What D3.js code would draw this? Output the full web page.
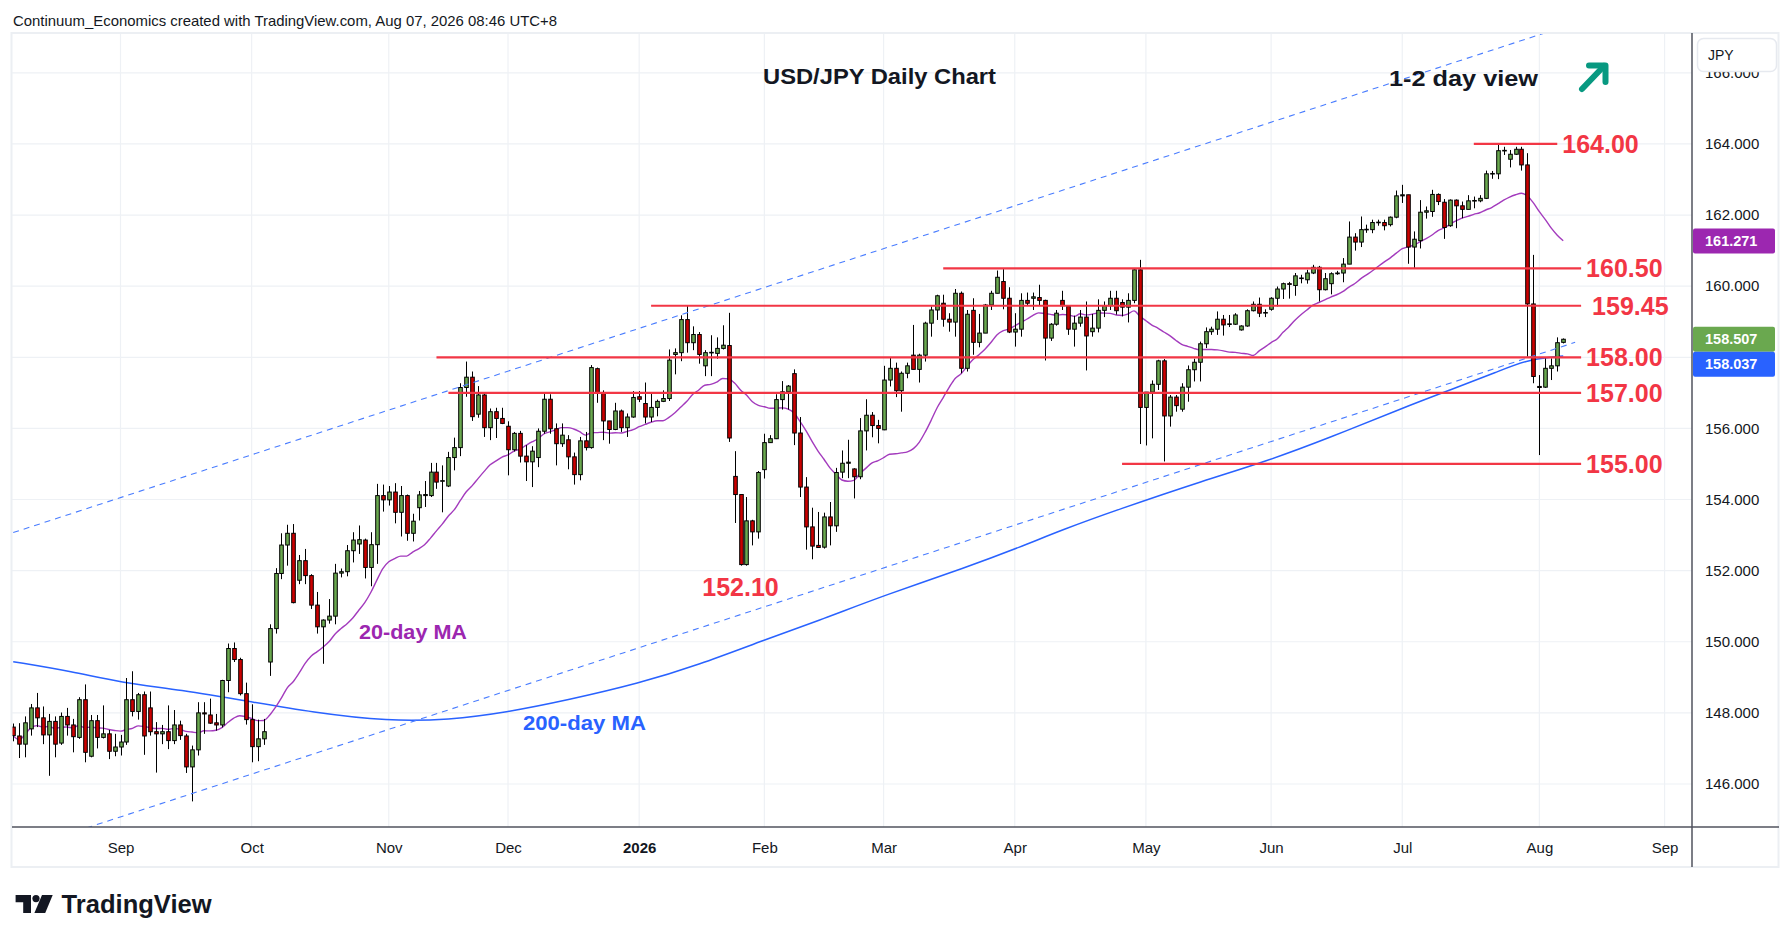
<!DOCTYPE html>
<html><head><meta charset="utf-8">
<script src="https://cdn.jsdelivr.net/npm/d3@7"></script>
<style>html,body{margin:0;padding:0;background:#fff;}svg{display:block;}</style>
</head><body>
<svg id="chart" width="1792" height="942"></svg>
<script>
// ---------------- DATA (O, H, L, C per trading day) ----------------
const aug2025 = [
[147.60,147.70,147.20,147.36],[147.35,147.71,146.73,147.12],[147.12,147.90,146.75,147.72],[147.55,148.25,147.36,148.14],
[148.14,148.56,147.60,147.86],[147.86,148.18,147.12,147.38],[147.38,147.97,146.23,147.76],[147.76,147.90,146.75,147.12],
[147.15,148.01,147.10,147.90],[147.90,148.14,147.36,147.66],[147.66,147.83,146.89,147.33],[147.31,148.44,147.27,148.37],
[148.37,148.80,146.61,146.89],[146.78,147.94,146.75,147.78],[147.78,147.94,147.00,147.31],[147.31,148.21,147.28,147.41],
[147.41,147.52,146.70,146.92],[146.92,147.41,146.78,147.04]];
const sep2025 = [
[147.04,147.38,146.80,147.18],[147.18,148.98,147.10,148.37],[148.37,149.17,147.90,148.04],[148.04,148.56,147.81,148.51],
[148.51,148.60,146.82,147.35],[148.14,148.60,147.36,147.47],[147.47,147.74,146.32,147.41],[147.41,147.66,147.12,147.47],
[147.47,148.21,146.98,147.22],[147.22,148.08,147.12,147.66],[147.66,147.78,147.24,147.36],[147.35,147.41,146.31,146.48],
[146.48,147.08,145.51,146.96],[146.96,148.30,146.80,148.00],[148.00,148.30,147.41,147.97],[147.94,148.40,147.69,147.71],
[147.72,147.97,147.50,147.66],[147.66,148.93,147.59,148.91],[148.91,149.95,148.58,149.81],[149.81,149.98,149.43,149.50],
[149.50,149.55,148.49,148.54],[148.54,148.85,147.67,147.81]];
const oct2025 = [
[147.81,148.24,146.61,147.05],[147.05,147.81,146.64,147.27],[147.27,147.83,147.10,147.47],[149.43,150.49,149.04,150.37],
[150.37,152.07,150.23,151.92],[151.92,153.05,151.76,152.72],[152.72,153.29,152.14,153.05],[153.05,153.31,151.08,151.10],
[151.73,152.44,151.62,152.28],[152.28,152.61,151.62,151.86],[151.86,151.90,150.92,151.03],[151.03,151.40,150.23,150.42],
[150.42,150.63,149.38,150.61],[150.61,151.20,150.51,150.72],[150.72,152.19,150.49,151.93],[151.93,152.06,151.81,151.97],
[151.97,152.72,151.84,152.56],[152.56,153.08,152.23,152.86],[152.75,153.27,152.47,152.87],[152.86,152.90,151.78,152.09],
[152.09,153.08,151.56,152.73],[152.73,154.44,152.19,154.11],[154.11,154.42,153.66,153.99]];
const nov2025 = [
[153.99,154.38,153.83,154.21],[154.21,154.46,153.33,153.64],[153.64,154.38,152.96,154.11],[154.11,154.14,152.84,153.05],
[153.05,153.60,152.82,153.39],[153.77,154.24,153.41,154.13],[154.11,154.52,153.79,154.14],[154.11,155.03,154.07,154.77],
[154.77,155.03,154.30,154.49],[154.52,154.96,153.64,154.53],[154.38,155.34,154.35,155.18],[155.18,155.74,154.82,155.46],
[155.46,157.27,155.22,157.15],[157.15,157.88,156.89,157.44],[157.44,157.60,156.21,156.33],[156.40,157.19,156.30,156.94],
[156.94,156.98,155.76,156.02],[156.02,156.56,155.67,156.47],[156.47,156.58,155.73,156.28],[156.28,156.58,156.12,156.14]];
const dec2025 = [
[156.06,156.20,154.68,155.40],[155.40,155.90,155.35,155.86],[155.86,155.93,155.04,155.22],[155.22,155.53,154.52,155.06],
[155.06,155.50,154.35,155.36],[155.18,156.00,154.91,155.92],[155.92,156.97,155.85,156.82],[156.82,156.96,155.85,155.99],
[155.99,156.14,154.96,155.57],[155.57,156.14,155.48,155.81],[155.68,155.81,154.85,155.20],[155.20,155.32,154.42,154.70],
[154.70,155.76,154.54,155.65],[155.65,155.90,155.38,155.46],[155.46,157.78,155.43,157.71],[157.68,157.71,156.72,157.01],
[157.01,157.07,155.67,156.21],[156.21,156.21,155.57,155.97],[155.97,156.72,155.95,156.49],[156.49,156.53,155.90,156.02],
[156.02,156.42,155.76,156.32],[156.32,157.05,156.30,156.87]];
const jan2026 = [
[156.89,157.05,156.74,156.82],[156.70,157.29,156.14,156.32],[156.32,157.00,156.18,156.59],[156.59,156.81,156.34,156.76],
[156.76,157.07,156.74,156.84],[156.84,158.22,156.77,157.92],[158.08,158.25,157.52,158.13],[158.13,159.18,157.89,159.06],
[159.06,159.47,158.13,158.41],[158.41,158.87,158.20,158.64],[158.64,158.71,157.82,158.08],[157.76,158.20,157.47,158.13],
[158.13,158.62,157.47,158.14],[158.11,158.56,157.96,158.25],[158.25,158.90,158.22,158.34],[158.33,159.25,155.62,155.73],
[154.65,155.36,153.34,154.14],[154.14,154.14,152.14,152.17],[152.17,154.07,152.14,153.40],[153.40,153.43,152.71,153.09],
[153.09,154.80,152.90,154.76]];
const feb2026 = [
[154.84,155.85,154.59,155.60],[155.60,155.81,155.59,155.71],[155.71,156.96,155.70,156.81],[156.81,157.33,156.53,157.03],
[157.03,157.22,156.53,157.19],[157.54,157.66,155.53,155.87],[155.87,156.32,154.07,154.35],[154.35,154.63,152.59,153.23],
[153.23,153.77,152.32,152.69],[152.71,153.65,152.64,152.65],[152.66,153.63,152.62,153.51],[153.51,153.93,152.71,153.26],
[153.26,154.89,153.09,154.76],[154.77,155.38,154.60,155.02],[155.02,155.68,154.60,155.05],[154.86,154.88,154.03,154.64],
[154.64,156.29,154.57,155.93],[155.93,156.82,155.38,156.37],[156.37,156.46,155.75,156.08],[156.08,156.24,155.58,156.00]];
const mar2026 = [
[155.96,157.76,155.95,157.36],[157.36,158.00,157.18,157.69],[157.69,157.85,156.88,157.06],[157.06,157.60,156.47,157.55],
[157.55,157.85,157.41,157.76],[158.06,158.91,157.66,157.66],[157.66,158.10,157.29,158.06],[158.06,159.00,157.88,158.96],
[158.96,159.43,158.58,159.33],[159.33,159.76,159.05,159.73],[159.52,159.76,158.86,159.07],[159.07,159.24,158.72,158.99],
[158.99,159.92,158.58,159.80],[159.80,159.85,157.55,157.69],[157.69,159.33,157.60,159.21],[159.32,159.66,158.07,158.42],
[158.42,159.22,158.28,158.68],[158.68,159.50,158.68,159.47],[159.47,159.87,159.33,159.80],[159.80,160.44,159.80,160.25],
[160.13,160.48,159.35,159.66],[159.66,159.97,158.68,158.71]];
const apr2026 = [
[158.71,159.24,158.30,158.79],[158.79,159.80,158.58,159.60],[159.60,159.82,159.47,159.52],[159.66,159.82,159.33,159.70],
[159.68,160.04,159.47,159.60],[159.60,159.62,157.91,158.54],[158.54,158.96,158.46,158.93],[158.93,159.33,158.89,159.24],
[159.60,159.87,159.33,159.45],[159.43,159.45,158.63,158.79],[158.79,159.17,158.30,158.96],[158.96,159.33,158.86,159.13],
[159.13,159.57,157.63,158.60],[158.72,159.22,158.58,158.82],[158.82,159.63,158.70,159.32],[159.32,159.57,159.13,159.45],
[159.45,159.87,159.33,159.66],[159.66,159.87,159.20,159.31],[159.54,159.63,159.15,159.41],[159.41,159.80,158.98,159.60],
[159.60,160.51,159.52,160.46],[160.46,160.74,155.56,156.59]];
const may2026 = [
[156.59,157.02,155.52,157.02],[157.02,157.35,155.72,157.24],[157.24,157.93,157.08,157.90],[157.90,157.95,155.07,156.35],
[156.35,156.94,156.05,156.88],[156.88,156.94,156.47,156.64],[156.54,157.27,156.47,157.16],[157.16,157.77,156.75,157.65],
[157.65,157.96,157.32,157.86],[157.86,158.44,157.32,158.38],[158.38,158.84,158.26,158.72],[158.72,158.86,158.63,158.79],
[158.79,159.29,158.63,159.07],[159.07,159.19,158.61,158.91],[158.94,159.19,158.85,158.94],[158.93,159.24,158.91,159.19],
[158.77,158.90,158.75,158.88],[158.88,159.35,158.86,159.31],[159.31,159.57,159.29,159.49],[159.49,159.68,159.13,159.24],
[159.26,159.35,159.13,159.26]];
const jun2026 = [
[159.35,159.69,159.31,159.66],[159.66,159.99,159.43,159.92],[159.92,160.10,159.64,160.07],[160.07,160.12,159.65,160.05],
[160.02,160.37,159.73,160.29],[160.22,160.32,160.08,160.23],[160.18,160.46,160.07,160.37],[160.37,160.60,160.34,160.53],
[160.53,160.57,159.57,159.90],[159.90,160.37,159.88,160.21],[160.07,160.39,159.77,160.35],[160.35,160.43,160.32,160.37],
[160.37,160.79,160.11,160.62],[160.62,161.82,160.62,161.38],[161.38,161.49,161.00,161.24],[161.24,161.96,161.10,161.59],
[161.59,161.73,161.50,161.60],[161.59,161.87,161.49,161.79],[161.79,161.87,161.70,161.80],[161.79,161.87,161.57,161.70],
[161.73,161.96,161.68,161.94],[161.94,162.69,161.91,162.54]];
const jul2026 = [
[162.54,162.85,162.34,162.57],[162.57,162.57,160.63,161.10],[161.10,161.54,160.51,161.32],[161.28,162.42,161.06,162.08],
[162.08,162.24,161.90,162.12],[162.10,162.71,161.95,162.58],[162.58,162.61,162.28,162.38],[162.36,162.45,161.33,161.65],
[161.70,162.44,161.67,162.42],[162.42,162.44,161.63,162.26],[162.26,162.38,161.91,162.16],[162.16,162.56,162.16,162.40],
[162.40,162.52,162.19,162.41],[162.40,162.56,162.36,162.47],[162.47,163.25,162.45,163.16],[163.16,163.24,163.02,163.17],
[163.16,163.99,163.01,163.81],[163.81,163.92,163.69,163.82],[163.57,163.83,163.34,163.71],[163.71,163.92,163.69,163.85],
[163.85,163.92,163.25,163.41],[163.41,163.74,158.02,159.50],[159.50,160.88,157.27,157.46]];
const aug2026 = [
[157.18,157.50,155.25,157.15],[157.16,157.97,157.14,157.69],[157.69,157.97,157.36,157.76],[157.76,158.56,157.60,158.41],
[158.42,158.53,158.39,158.507]];

// 200-day moving average [date, value]
const ma200Points = [
["2025-08-06",149.44],["2025-08-20",149.16],["2025-09-01",148.85],["2025-09-15",148.65],["2025-10-01",148.31],
["2025-10-15",148.02],["2025-11-03",147.76],["2025-11-17",147.80],["2025-12-01",148.02],["2025-12-15",148.36],
["2026-01-02",148.83],["2026-01-16",149.35],["2026-02-02",150.05],["2026-02-16",150.65],["2026-03-02",151.30],
["2026-03-20",152.10],["2026-04-02",152.67],["2026-04-13",153.15],["2026-04-24",153.70],["2026-05-15",154.55],
["2026-05-29",155.06],["2026-06-15",155.75],["2026-07-01",156.57],["2026-07-13",157.08],["2026-07-23",157.59],
["2026-07-30",157.94],["2026-08-07",158.037]];

// horizontal levels
const levelValues = [164.00, 160.50, 159.45, 158.00, 157.00, 155.00];
const levelStarts = ["2026-07-17","2026-03-16","2026-01-06","2025-11-13","2025-11-17","2026-04-27"];
const levelEnds   = ["2026-08-06","2026-08-12","2026-08-12","2026-08-12","2026-08-12","2026-08-12"];

// channel trend lines [date, price]
const channelUpper = [["2025-08-06",153.07],["2026-08-11",167.40]];
const channelLower = [["2025-08-06",144.09],["2026-08-11",158.42]];

// axis ticks
const priceTicks = [146,148,150,152,154,156,158,160,162,164,166];
const monthStarts = ["2025-09-01","2025-10-01","2025-11-03","2025-12-01","2026-01-02","2026-02-02","2026-03-02",
                     "2026-04-01","2026-05-01","2026-06-01","2026-07-01","2026-08-03","2026-09-01"];
const monthLabels = ["Sep","Oct","Nov","Dec","2026","Feb","Mar","Apr","May","Jun","Jul","Aug","Sep"];

// last-value tags
const tagValues = [161.271, 158.507, 158.037];
const tagColors = ["#9c27b0", "#6aa84f", "#2962ff"];

// ---------------- SETUP ----------------
const FONT = "'Liberation Sans', Arial, sans-serif";
const holidays = new Set(["2025-12-25","2026-01-01"]);
const fmtDate = d3.utcFormat("%Y-%m-%d");
const allDays = d3.utcDay.range(new Date(Date.UTC(2025,7,6)), new Date(Date.UTC(2026,9,1)))
  .filter(d => d.getUTCDay() !== 0 && d.getUTCDay() !== 6 && !holidays.has(fmtDate(d)))
  .map(fmtDate);
const dayIndex = new Map(allDays.map((d,i)=>[d,i]));
const idx = s => dayIndex.get(s);

const rows = [].concat(aug2025,sep2025,oct2025,nov2025,dec2025,jan2026,feb2026,mar2026,apr2026,may2026,jun2026,jul2026,aug2026);
const candles = rows.map((r,i)=>({i, date: allDays[i], o:r[0], h:r[1], l:r[2], c:r[3]}));

// 20-day SMA from closes
const ma20 = candles.map((d,i)=>{
  const s = Math.max(0, i-19);
  return {i, v: d3.mean(candles.slice(s, i+1), e=>e.c)};
});

const PL = 12, PR = 1692, PT = 33, PB = 827;
const x = d3.scaleLinear().domain([-0.2, 281.6]).range([PL, PR]);
const y = d3.scaleLinear().domain([144.79, 167.12]).range([PB, PT]);

const svg = d3.select("#chart");
svg.append("rect").attr("width",1792).attr("height",942).attr("fill","#fff");

svg.append("defs").append("clipPath").attr("id","plotClip")
  .append("rect").attr("x",PL).attr("y",PT).attr("width",PR-PL).attr("height",PB-PT);

// header
svg.append("text").attr("x",13).attr("y",26).attr("font-family",FONT).attr("font-size",15)
  .attr("fill","#131722").attr("textLength",544).attr("lengthAdjust","spacingAndGlyphs")
  .text("Continuum_Economics created with TradingView.com, Aug 07, 2026 08:46 UTC+8");

// grid
const grid = svg.append("g").attr("clip-path","url(#plotClip)");
grid.selectAll(".hg").data(priceTicks).join("line")
  .attr("x1",PL).attr("x2",PR).attr("y1",d=>y(d)).attr("y2",d=>y(d))
  .attr("stroke","#eef1f5").attr("stroke-width",1.2);
grid.selectAll(".vg").data(monthStarts).join("line")
  .attr("x1",d=>x(idx(d))).attr("x2",d=>x(idx(d))).attr("y1",PT).attr("y2",PB)
  .attr("stroke","#eef1f5").attr("stroke-width",1.2);

const plot = svg.append("g").attr("clip-path","url(#plotClip)");

// 200-day MA
plot.append("path").datum(ma200Points)
  .attr("d", d3.line().x(d=>x(idx(d[0]))).y(d=>y(d[1])).curve(d3.curveBasis))
  .attr("fill","none").attr("stroke","#2962ff").attr("stroke-width",1.5);

// 20-day MA
plot.append("path").datum(ma20)
  .attr("d", d3.line().x(d=>x(d.i)).y(d=>y(d.v)).curve(d3.curveMonotoneX))
  .attr("fill","none").attr("stroke","#a33bbd").attr("stroke-width",1.4);

// candles
const cg = plot.append("g");
cg.selectAll(".wick").data(candles).join("line")
  .attr("x1",d=>Math.round(x(d.i))+0.5).attr("x2",d=>Math.round(x(d.i))+0.5)
  .attr("y1",d=>y(d.h)).attr("y2",d=>y(d.l))
  .attr("stroke","#000").attr("stroke-width",1);
const BW = 3.6;
cg.selectAll(".body").data(candles).join("rect")
  .attr("x",d=>Math.round(x(d.i))+0.5-BW/2)
  .attr("y",d=>y(Math.max(d.o,d.c)))
  .attr("width",BW)
  .attr("height",d=>Math.max(0.6, Math.abs(y(d.o)-y(d.c))))
  .attr("fill",d=>d.c>=d.o ? "#6aa84f" : "#cc0000")
  .attr("stroke","#000").attr("stroke-width",1);

// level lines
const lv = svg.append("g");
levelValues.forEach((v,k)=>{
  const x1 = x(idx(levelStarts[k])), x2 = x(idx(levelEnds[k]));
  lv.append("line").attr("x1",x1).attr("x2",x2).attr("y1",y(v)).attr("y2",y(v))
    .attr("stroke","#f23645").attr("stroke-width",2.2);
  lv.append("text").attr("x",x2+(v===159.45?11:5)).attr("y",y(v)).attr("dy","0.36em")
    .attr("font-family",FONT).attr("font-size",25).attr("font-weight","bold").attr("fill","#f23645")
    .text(v.toFixed(2));
});

// channel dashed lines
[channelUpper, channelLower].forEach(ch=>{
  plot.append("line")
    .attr("x1",x(idx(ch[0][0]))).attr("y1",y(ch[0][1]))
    .attr("x2",x(idx(ch[1][0]))).attr("y2",y(ch[1][1]))
    .attr("stroke","#4a7dff").attr("stroke-width",1.1).attr("stroke-dasharray","6,5");
});

// annotations
const annot = svg.append("g").attr("font-family",FONT);
annot.append("text").attr("x",x(idx("2026-01-27"))).attr("y",y(152.10)).attr("dy","1.15em")
  .attr("text-anchor","middle").attr("font-size",25).attr("font-weight","bold").attr("fill","#f23645").text("152.10");
annot.append("text").attr("x",x(idx("2025-10-27"))).attr("y",y(150.08))
  .attr("font-size",21).attr("font-weight","bold").attr("fill","#9c27b0")
  .attr("textLength",108).attr("lengthAdjust","spacingAndGlyphs").text("20-day MA");
annot.append("text").attr("x",x(idx("2025-12-04"))-3).attr("y",y(147.52))
  .attr("font-size",21).attr("font-weight","bold").attr("fill","#2962ff")
  .attr("textLength",123).attr("lengthAdjust","spacingAndGlyphs").text("200-day MA");

// titles
svg.append("text").attr("x",763).attr("y",84).attr("font-family",FONT).attr("font-size",22)
  .attr("font-weight","bold").attr("fill","#131722").attr("textLength",233).attr("lengthAdjust","spacingAndGlyphs")
  .text("USD/JPY Daily Chart");
svg.append("text").attr("x",1389).attr("y",86).attr("font-family",FONT).attr("font-size",22)
  .attr("font-weight","bold").attr("fill","#131722").attr("textLength",149).attr("lengthAdjust","spacingAndGlyphs")
  .text("1-2 day view");
// arrow
const ar = svg.append("g").attr("stroke","#089981").attr("stroke-width",6)
  .attr("stroke-linecap","round").attr("stroke-linejoin","round").attr("fill","none");
ar.append("line").attr("x1",1582).attr("y1",89).attr("x2",1604).attr("y2",66);
ar.append("polyline").attr("points","1589,65.5 1605.5,65.5 1605.5,82");

// frame & axes lines
svg.append("rect").attr("x",11.5).attr("y",33).attr("width",1767).attr("height",834)
  .attr("fill","none").attr("stroke","#eceff3").attr("stroke-width",2);
svg.append("line").attr("x1",PL).attr("x2",1779).attr("y1",PB).attr("y2",PB)
  .attr("stroke","#50535e").attr("stroke-width",1.5);
svg.append("line").attr("x1",PR).attr("x2",PR).attr("y1",PT).attr("y2",867)
  .attr("stroke","#50535e").attr("stroke-width",1.5);

// x axis
const xAxis = svg.append("g").attr("transform",`translate(0,${PB})`)
  .call(d3.axisBottom(x).tickValues(monthStarts.map(idx)).tickSize(0)
        .tickFormat((d,k)=>monthLabels[k]));
xAxis.select(".domain").remove();
xAxis.selectAll("text").attr("y",21).attr("dy","0.35em")
  .attr("font-family",FONT).attr("font-size",15).attr("fill","#131722")
  .attr("font-weight",(d,k)=>monthLabels[k]==="2026"?"bold":"normal");

// last value tags layout (stacked to avoid overlap)
const TH = 25;
const tags = tagValues.map((v,k)=>({v, color:tagColors[k], cy:y(v)})).sort((a,b)=>a.cy-b.cy);
for (let k=1;k<tags.length;k++){
  const prevBottom = tags[k-1].cy + TH/2;
  if (tags[k].cy - TH/2 < prevBottom) tags[k].cy = prevBottom + TH/2;
}

// y axis (labels that collide with a tag are hidden, as the platform does)
const visibleTicks = priceTicks.filter(t => tags.every(g => Math.abs(y(t) - g.cy) > TH/2 + 7));
const yAxis = svg.append("g").attr("transform",`translate(${PR},0)`)
  .call(d3.axisRight(y).tickValues(visibleTicks).tickSize(0).tickPadding(13).tickFormat(d3.format(".3f")));
yAxis.select(".domain").remove();
yAxis.selectAll("text").attr("font-family",FONT).attr("font-size",15).attr("fill","#131722");

// JPY box
svg.append("rect").attr("x",1697.5).attr("y",38.5).attr("width",79).attr("height",33).attr("rx",6)
  .attr("fill","#fff").attr("stroke","#e6e9ef").attr("stroke-width",1.5);
svg.append("text").attr("x",1708).attr("y",55).attr("dy","0.35em").attr("font-family",FONT)
  .attr("font-size",14).attr("fill","#131722").text("JPY");

// tags
const tg = svg.append("g");
tags.forEach(t=>{
  tg.append("rect").attr("x",PR+1).attr("y",t.cy-TH/2).attr("width",82).attr("height",TH).attr("rx",2)
    .attr("fill",t.color);
  tg.append("text").attr("x",1705).attr("y",t.cy).attr("dy","0.35em").attr("font-family",FONT)
    .attr("font-size",14.5).attr("font-weight","bold").attr("fill","#fff").text(d3.format(".3f")(t.v));
});

// TradingView logo
const logo = svg.append("g").attr("fill","#131722");
logo.append("path").attr("d","M15.6,895 H31 V913 H23.2 V902.2 H15.6 Z");
logo.append("circle").attr("cx",36).attr("cy",898.6).attr("r",3.6);
logo.append("path").attr("d","M42,895 H52.7 L45.2,913 H34.4 Z");
svg.append("text").attr("x",61.6).attr("y",913).attr("font-family",FONT).attr("font-size",25)
  .attr("font-weight","bold").attr("fill","#131722").attr("textLength",150).attr("lengthAdjust","spacingAndGlyphs")
  .text("TradingView");
</script>
</body></html>
